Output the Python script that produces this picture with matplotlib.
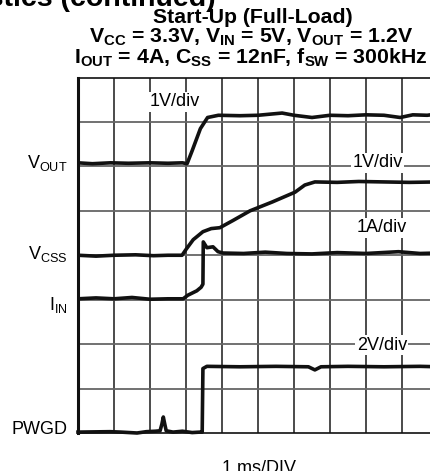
import numpy as np
import matplotlib
matplotlib.use('Agg')
import matplotlib.pyplot as plt

plt.rcParams['font.family'] = ['Liberation Sans', 'DejaVu Sans']
plt.rcParams['mathtext.fontset'] = 'custom'
plt.rcParams['mathtext.rm'] = 'Liberation Sans'
plt.rcParams['mathtext.bf'] = 'Liberation Sans:bold'
plt.rcParams['mathtext.it'] = 'Liberation Sans:italic'

# traces, in scope divisions (x: 0..10 time div, y: 0..8 div)
vout_x = [0, 0.4, 0.9, 1.4, 2.0, 2.5, 2.9, 3.03, 3.17, 3.4, 3.6, 3.9, 4.5, 5.0, 5.67, 6.0, 6.5, 7.0, 7.5, 8.0, 8.5, 8.95, 9.3, 9.7, 10]
vout_y = [6.08, 6.06, 6.08, 6.07, 6.08, 6.07, 6.08, 6.06, 6.35, 6.85, 7.1, 7.15, 7.14, 7.15, 7.2, 7.15, 7.1, 7.15, 7.14, 7.16, 7.15, 7.1, 7.16, 7.15, 7.18]

vcss_x = [0, 0.5, 1.0, 1.6, 2.1, 2.5, 2.89, 3.0, 3.2, 3.47, 3.7, 3.94, 4.3, 4.78, 5.4, 6.03, 6.3, 6.58, 7.2, 7.8, 8.5, 9.2, 10]
vcss_y = [4.0, 3.98, 4.0, 4.01, 3.99, 4.0, 4.0, 4.13, 4.35, 4.53, 4.6, 4.62, 4.78, 5.0, 5.2, 5.42, 5.58, 5.65, 5.64, 5.66, 5.65, 5.64, 5.65]

iin_x = [0, 0.5, 1.0, 1.5, 2.0, 2.5, 2.92, 3.05, 3.3, 3.42, 3.47, 3.48, 3.58, 3.75, 3.89, 4.03, 4.6, 5.2, 5.8, 6.5, 7.2, 8.0, 8.9, 9.5, 10]
iin_y = [3.02, 3.04, 3.02, 3.05, 3.01, 3.02, 3.02, 3.1, 3.2, 3.28, 3.35, 4.3, 4.17, 4.19, 4.08, 4.05, 4.04, 4.07, 4.04, 4.03, 4.06, 4.04, 4.08, 4.04, 4.05]

pwgd_x = [0, 0.89, 1.2, 1.64, 1.9, 2.15, 2.28, 2.33, 2.37, 2.41, 2.45, 2.64, 2.9, 3.17, 3.39, 3.45, 3.47, 3.58, 4.5, 5.5, 6.4, 6.58, 6.75, 7.5, 8.5, 9.5, 10]
pwgd_y = [0.02, 0.03, 0.02, 0.0, 0.03, 0.04, 0.05, 0.2, 0.36, 0.2, 0.05, 0.02, 0.04, 0.01, 0.02, 0.02, 1.45, 1.5, 1.49, 1.5, 1.49, 1.42, 1.49, 1.5, 1.49, 1.5, 1.49]

fig = plt.figure(figsize=(4.30, 4.71), dpi=100)
ax = fig.add_axes([78 / 430, 1 - 433 / 471, 360 / 430, 355.5 / 471])
ax.set_xlim(0, 10)
ax.set_ylim(0, 8)
ax.set_xticks([])
ax.set_yticks([])

for gx in range(1, 10):
    ax.axvline(gx, color='#1a1a1a', lw=1.1, zorder=1)
for gy in range(1, 8):
    ax.axhline(gy, color='#666666', lw=1.3, zorder=1)

for s in ax.spines.values():
    s.set_color('#111111')
    s.set_linewidth(1.2)
ax.spines['left'].set_linewidth(2.2)

lw = 2.6
ax.plot(vout_x, vout_y, color='#111111', lw=lw, zorder=3, solid_joinstyle='round')
ax.plot(vcss_x, vcss_y, color='#111111', lw=lw, zorder=3, solid_joinstyle='round')
ax.plot(iin_x, iin_y, color='#111111', lw=lw, zorder=3, solid_joinstyle='round')
ax.plot(pwgd_x, pwgd_y, color='#111111', lw=lw, zorder=3, solid_joinstyle='round', clip_on=False)

# scale annotations
box = dict(facecolor='white', edgecolor='none', pad=1.0)
ax.text(2.69, 7.45, '1V/div', fontsize=13, ha='center', va='center', bbox=box, zorder=2)
ax.text(8.33, 6.08, '1V/div', fontsize=13, ha='center', va='center', bbox=box, zorder=2)
ax.text(8.44, 4.62, '1A/div', fontsize=13, ha='center', va='center', bbox=box, zorder=2)
ax.text(8.44, 1.98, '2V/div', fontsize=13, ha='center', va='center', bbox=box, zorder=2)

# channel labels
ax.text(-0.28, 6.08, r'V$_\mathrm{OUT}$', fontsize=13, ha='right', va='center', clip_on=False)
ax.text(-0.28, 4.02, r'V$_\mathrm{CSS}$', fontsize=13, ha='right', va='center', clip_on=False)
ax.text(-0.28, 2.88, r'I$_\mathrm{IN}$', fontsize=13, ha='right', va='center', clip_on=False)
ax.text(-0.28, 0.07, 'PWGD', fontsize=13, ha='right', va='center', clip_on=False)

# titles
fig.text(253 / 430, 1 - 23 / 471, 'Start-Up (Full-Load)', fontsize=15.3, fontweight='bold', ha='center', va='baseline')
fig.text(251 / 430, 1 - 43 / 471, r'V$_\mathbf{CC}$ = 3.3V, V$_\mathbf{IN}$ = 5V, V$_\mathbf{OUT}$ = 1.2V',
         fontsize=15.3, fontweight='bold', ha='center', va='baseline')
fig.text(251 / 430, 1 - 64 / 471, r'I$_\mathbf{OUT}$ = 4A, C$_\mathbf{SS}$ = 12nF, f$_\mathbf{SW}$ = 300kHz',
         fontsize=15.3, fontweight='bold', ha='center', va='baseline')
fig.text(216 / 430, 1 - 6 / 471, 'Typical Characteristics (continued)', fontsize=20.5, fontweight='bold',
         ha='right', va='baseline')

fig.text(259 / 430, 1 - 473 / 471, '1 ms/DIV', fontsize=13, ha='center', va='baseline')

fig.savefig('out.png', dpi=100)
